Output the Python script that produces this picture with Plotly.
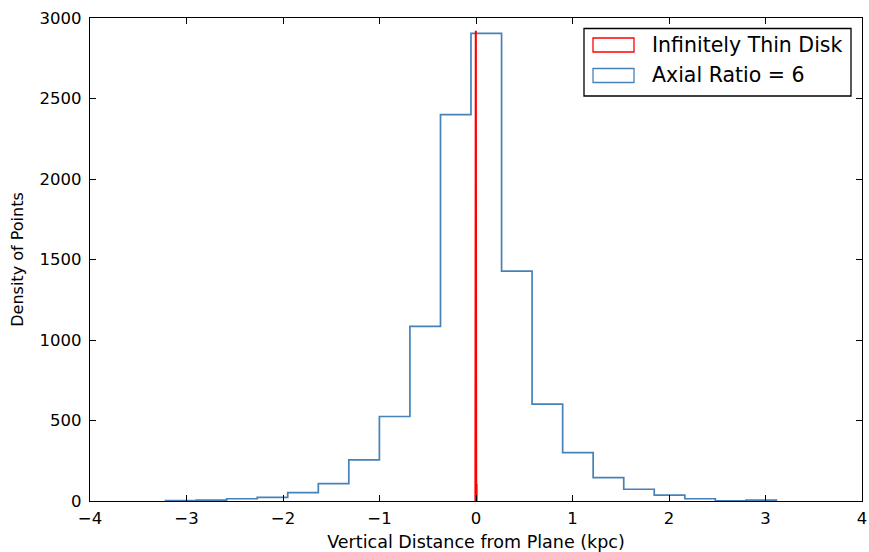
import plotly.graph_objects as go

# ---- data ----
blue_edges = [-3.217, -2.900, -2.584, -2.267, -1.951, -1.634, -1.318, -1.001,
              -0.685, -0.368, -0.052, 0.265, 0.581, 0.898, 1.214, 1.531,
              1.847, 2.164, 2.480, 2.797, 3.113]
blue_counts = [2, 6, 14, 23, 52, 108, 255, 525, 1085, 2400, 2905, 1428,
               602, 300, 145, 73, 37, 14, 1, 6]

red_edges = [-0.008, -0.004, 0.0, 0.004, 0.008]
red_counts = [400, 2915, 1250, 100]

series_names = ["Infinitely Thin Disk", "Axial Ratio = 6"]
x_tick_vals = [-4, -3, -2, -1, 0, 1, 2, 3, 4]
y_tick_vals = [0, 500, 1000, 1500, 2000, 2500, 3000]

RED = "#ff0000"
BLUE = "rgb(70,130,185)"
FONT = "DejaVu Sans"


def step_outline(edges, counts):
    xs = [edges[0]]
    ys = [0]
    for i, c in enumerate(counts):
        xs += [edges[i], edges[i + 1]]
        ys += [c, c]
    xs.append(edges[-1])
    ys.append(0)
    return xs, ys


fig = go.Figure()
bx, by = step_outline(blue_edges, blue_counts)
rx, ry = step_outline(red_edges, red_counts)
fig.add_trace(go.Scatter(x=bx, y=by, mode="lines", line=dict(color=BLUE, width=1.7),
                         name=series_names[1], showlegend=False))
fig.add_trace(go.Scatter(x=rx, y=ry, mode="lines", line=dict(color=RED, width=1.7),
                         name=series_names[0], showlegend=False))

# plot area in pixels: x 90..862, y 18..501
L, R, T, B = 90, 862, 18, 501
W, H = R - L, B - T


def px(x):
    return (x - L) / W


def py(y):
    return (B - y) / H


shapes = []
# legend box
shapes.append(dict(type="rect", xref="paper", yref="paper",
                   x0=px(584), x1=px(851), y0=py(96), y1=py(28.5),
                   line=dict(color="black", width=1.3), fillcolor="white", layer="above"))
# legend swatches
shapes.append(dict(type="rect", xref="paper", yref="paper",
                   x0=px(593), x1=px(634), y0=py(52), y1=py(38),
                   line=dict(color=RED, width=1.3), fillcolor="rgba(0,0,0,0)", layer="above"))
shapes.append(dict(type="rect", xref="paper", yref="paper",
                   x0=px(593), x1=px(634), y0=py(82.5), y1=py(68.5),
                   line=dict(color=BLUE, width=1.3), fillcolor="rgba(0,0,0,0)", layer="above"))

annotations = [
    dict(text=series_names[0], xref="paper", yref="paper", x=px(650), y=py(45),
         xanchor="left", yanchor="middle", showarrow=False,
         font=dict(family=FONT, size=20.5, color="black")),
    dict(text=series_names[1], xref="paper", yref="paper", x=px(650), y=py(75),
         xanchor="left", yanchor="middle", showarrow=False,
         font=dict(family=FONT, size=20.5, color="black")),
]

axis_common = dict(showgrid=False, zeroline=False, showline=True, linecolor="black",
                   linewidth=1.3, mirror="allticks", ticks="inside", ticklen=6,
                   tickwidth=1, tickcolor="black", automargin=False,
                   tickfont=dict(family=FONT, size=16.5, color="black"))

fig.update_layout(
    width=869, height=552,
    margin=dict(l=L, r=869 - R, t=T, b=552 - B),
    paper_bgcolor="white", plot_bgcolor="white",
    font=dict(family=FONT, color="black"),
    showlegend=False,
    shapes=shapes,
    annotations=annotations,
    xaxis=dict(range=[-4, 4], tickvals=x_tick_vals, ticklabelstandoff=2,
               title=dict(text="Vertical Distance from Plane (kpc)",
                          font=dict(family=FONT, size=17.5), standoff=8),
               **axis_common),
    yaxis=dict(range=[0, 3000], tickvals=y_tick_vals, ticklabelstandoff=4,
               title=dict(text="Density of Points",
                          font=dict(family=FONT, size=16), standoff=11),
               **axis_common),
)

fig.write_html("out.html")
